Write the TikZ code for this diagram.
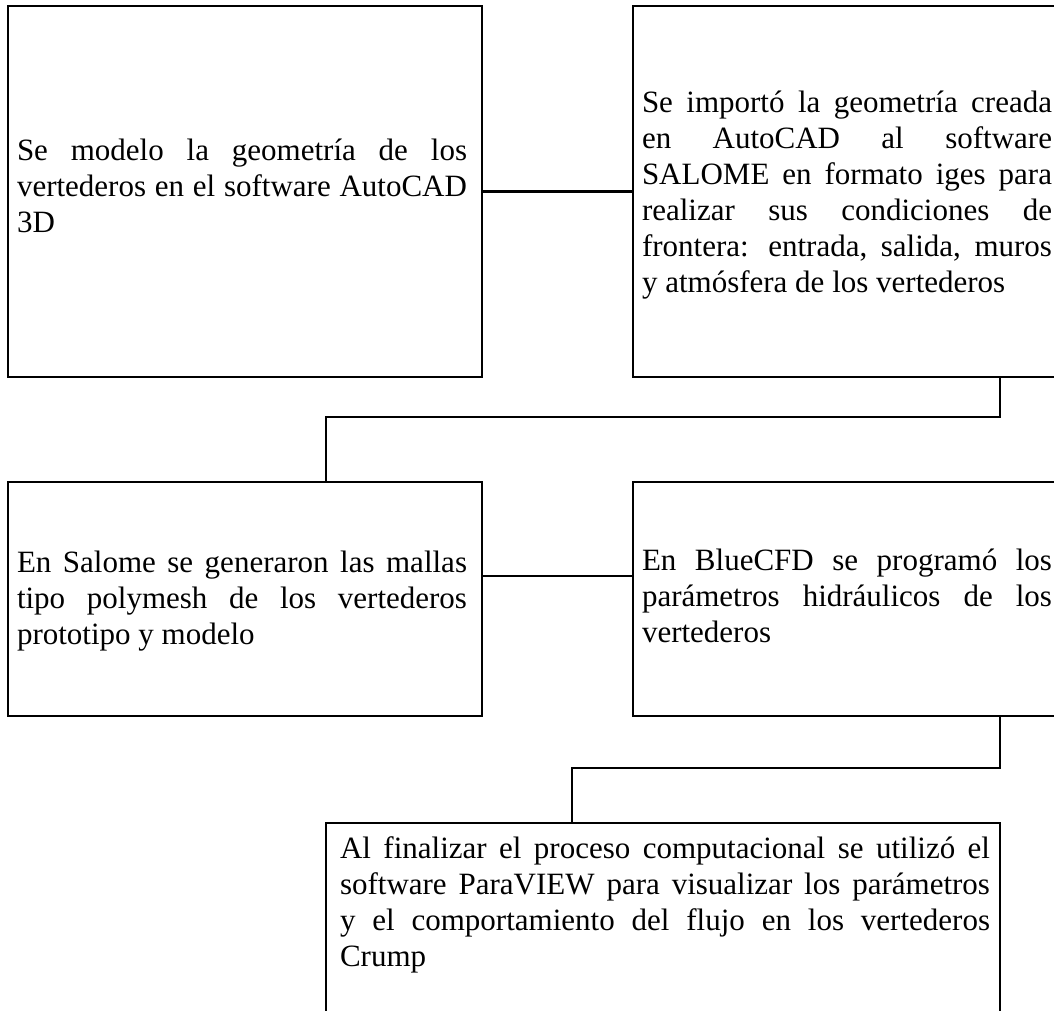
\documentclass[tikz,border=0pt]{standalone}
\usepackage{fontspec}
\setmainfont{Liberation Serif}
\hbadness=10000
\newcommand\diagfont{\fontsize{31}{36}\selectfont}
\begin{document}
\begin{tikzpicture}[x=1pt,y=-1pt,
  box/.style={draw=black, line width=2.5pt, inner sep=0pt},
  txt/.style={inner sep=0pt, align=justify, font=\diagfont, execute at begin node={\diagfont}},
  conn/.style={draw=black, line width=2.5pt}]
\useasboundingbox (0,0) rectangle (1054,1011);
\clip (0,0) rectangle (1054,1011);
\fill[white] (0,0) rectangle (1054,1011);
% boxes
\node[box, minimum width=474pt, minimum height=371pt] (b1) at (245,191.5) {};
\node[box, minimum width=431pt, minimum height=371pt] (b2) at (848.5,191.5) {};
\node[box, minimum width=474pt, minimum height=234pt] (b3) at (245,599) {};
\node[box, minimum width=431pt, minimum height=234pt] (b4) at (848.5,599) {};
\node[box, minimum width=674pt, minimum height=217pt] (b5) at (663,931.5) {};
% texts
\node[txt, text width=450pt] (t1) at (242,191.5) {\noindent Se modelo la geometría de los\linebreak vertederos en el software AutoCAD\linebreak 3D\strut\par};
\node[txt, text width=410pt] (t2) at (847,195) {\noindent Se importó la geometría creada\linebreak en AutoCAD al software\linebreak SALOME en formato iges para\linebreak realizar sus condiciones de\linebreak frontera: entrada, salida, muros\linebreak y atmósfera de los vertederos\par};
\node[txt, text width=450pt] (t3) at (242,601) {\noindent En Salome se generaron las mallas\linebreak tipo polymesh de los vertederos\linebreak prototipo y modelo\par};
\node[txt, text width=410pt] (t4) at (847,601) {\noindent En BlueCFD se programó los\linebreak parámetros hidráulicos de los\linebreak vertederos\strut\par};
\node[txt, text width=650pt, anchor=north] (t5) at (665,832.8) {\noindent\strut Al finalizar el proceso computacional se utilizó el\linebreak software ParaVIEW para visualizar los parámetros\linebreak y el comportamiento del flujo en los vertederos\linebreak Crump\par};
% connectors
\coordinate (k1) at (1000,417);
\coordinate (k2) at (326,417);
\coordinate (k3) at (560,576);
\coordinate (k4) at (1000,768);
\coordinate (k5) at (572,768);
\draw[conn] (b1.east) -- (b2.west);
\draw[conn] (b2.south -| k1) -- (k1) -- (k2) -- (k2 |- b3.north);
\draw[conn] (b3.east |- k3) -- (b4.west |- k3);
\draw[conn] (b4.south -| k4) -- (k4) -- (k5) -- (k5 |- b5.north);
\end{tikzpicture}
\end{document}
